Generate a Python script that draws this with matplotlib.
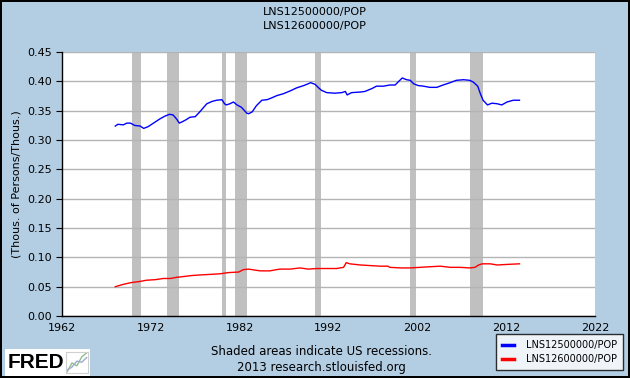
#LNS12500000/POP e LNS12600000/POP - estilo grafico FRED

import matplotlib.pyplot as plt
import matplotlib.patches as patches

# serie azul (LNS12500000/POP)
anos_azul = [1968.0, 1968.3, 1968.9, 1969.3, 1969.7, 1970.2, 1970.8, 1971.2, 1971.7,
             1972.3, 1973.0, 1973.6, 1974.1, 1974.5, 1974.9, 1975.2, 1975.5, 1976.0,
             1976.4, 1977.0, 1977.5, 1978.3, 1978.9, 1979.4, 1980.0, 1980.3, 1980.5,
             1980.9, 1981.3, 1981.7, 1982.2, 1982.8, 1983.0, 1983.4, 1983.9, 1984.5,
             1985.1, 1985.6, 1986.2, 1986.9, 1987.7, 1988.4, 1989.2, 1989.7, 1990.0,
             1990.5, 1990.9, 1991.2, 1991.8, 1992.7, 1993.5, 1993.9, 1994.1, 1994.6,
             1995.6, 1996.1, 1996.9, 1997.4, 1998.2, 1998.9, 1999.5, 2000.3, 2000.8,
             2001.2, 2001.6, 2002.1, 2002.7, 2003.4, 2004.2, 2004.9, 2005.7, 2006.4,
             2007.2, 2007.9, 2008.3, 2008.8, 2009.1, 2009.4, 2009.9, 2010.4, 2011.0,
             2011.5, 2012.1, 2012.8, 2013.5]
valores_azul = [0.324, 0.327, 0.326, 0.329, 0.329, 0.325, 0.324, 0.320, 0.323,
                0.329, 0.336, 0.341, 0.344, 0.343, 0.336, 0.329, 0.331, 0.335,
                0.339, 0.340, 0.348, 0.362, 0.366, 0.368, 0.369, 0.362, 0.360,
                0.362, 0.365, 0.360, 0.356, 0.346, 0.345, 0.348, 0.359, 0.368,
                0.369, 0.372, 0.376, 0.379, 0.384, 0.389, 0.393, 0.396, 0.398,
                0.395, 0.389, 0.385, 0.381, 0.380, 0.381, 0.383, 0.377, 0.381,
                0.382, 0.383, 0.388, 0.392, 0.392, 0.394, 0.394, 0.406, 0.403,
                0.402, 0.396, 0.393, 0.392, 0.390, 0.390, 0.394, 0.398, 0.402,
                0.403, 0.402, 0.399, 0.392, 0.379, 0.368, 0.360, 0.363, 0.362,
                0.360, 0.365, 0.368, 0.368]

# serie vermelha (LNS12600000/POP)
anos_verm = [1968.0, 1968.9, 1969.8, 1970.8, 1971.5, 1972.5, 1973.4, 1974.2, 1974.9,
             1975.5, 1976.6, 1977.5, 1978.7, 1979.8, 1980.7, 1981.9, 1982.4, 1983.0,
             1984.3, 1985.4, 1986.5, 1987.7, 1988.8, 1989.7, 1990.7, 1991.8, 1992.9,
             1993.7, 1994.0, 1994.4, 1995.6, 1996.7, 1997.8, 1998.7, 1998.9, 2000.1,
             2001.2, 2002.3, 2003.4, 2004.6, 2005.7, 2006.8, 2007.9, 2008.5, 2008.9,
             2009.3, 2010.2, 2011.0, 2012.1, 2013.5]
valores_verm = [0.050, 0.054, 0.057, 0.059, 0.061, 0.062, 0.064, 0.064, 0.066,
                0.067, 0.069, 0.070, 0.071, 0.072, 0.074, 0.075, 0.079, 0.080,
                0.077, 0.077, 0.080, 0.080, 0.082, 0.080, 0.081, 0.081, 0.081,
                0.083, 0.091, 0.089, 0.087, 0.086, 0.085, 0.085, 0.083, 0.082,
                0.082, 0.083, 0.084, 0.085, 0.083, 0.083, 0.082, 0.083, 0.087,
                0.089, 0.089, 0.087, 0.088, 0.089]

# recessoes (inicio, fim)
recessoes = [(1969.92, 1970.88), (1973.83, 1975.17), (1980.0, 1980.5),
             (1981.5, 1982.83), (1990.5, 1991.17), (2001.17, 2001.83),
             (2007.92, 2009.42)]

anos_ticks = [1962, 1972, 1982, 1992, 2002, 2012, 2022]
y_ticks = [0.00, 0.05, 0.10, 0.15, 0.20, 0.25, 0.30, 0.35, 0.40, 0.45]

fundo = '#b3cde3'

fig = plt.figure(figsize=(6.3, 3.78), dpi=100, facecolor=fundo,
                 edgecolor='black', linewidth=1.5)
ax = fig.add_axes([0.0984, 0.164, 0.846, 0.698])
ax.set_facecolor('white')

for ini, fim in recessoes:
    ax.axvspan(ini, fim, color='#c0c0c0', lw=0, zorder=1)

ax.plot(anos_azul, valores_azul, color='#0000ff', lw=1, zorder=3, label='LNS12500000/POP')
ax.plot(anos_verm, valores_verm, color='#ff0000', lw=1, zorder=3, label='LNS12600000/POP')

ax.set_xlim(1962, 2022)
ax.set_ylim(0, 0.45)
ax.set_xticks(anos_ticks)
ax.set_yticks(y_ticks)
ax.set_yticklabels(['%.2f' % v for v in y_ticks])
ax.tick_params(labelsize=8, length=4, width=0.8, color='black')
ax.tick_params(axis='x', length=0, pad=5)
ax.grid(axis='y', color='#b4b4b4', lw=1, zorder=2)
ax.set_axisbelow(False)
for s in ['top', 'right']:
    ax.spines[s].set_visible(False)
for s in ['left', 'bottom']:
    ax.spines[s].set_linewidth(1)
    ax.spines[s].set_zorder(4)

ax.set_ylabel('(Thous. of Persons/Thous.)', fontsize=8, labelpad=4)

fig.text(0.5, 0.968, 'LNS12500000/POP', ha='center', va='center', fontsize=8)
fig.text(0.5, 0.931, 'LNS12600000/POP', ha='center', va='center', fontsize=8)

fig.text(0.511, 0.069, 'Shaded areas indicate US recessions.', ha='center', va='center', fontsize=8.5)
fig.text(0.511, 0.029, '2013 research.stlouisfed.org', ha='center', va='center', fontsize=8.5)

# logo FRED
fig.patches.append(patches.Rectangle((0.008, 0.005), 0.135, 0.072, transform=fig.transFigure,
                                     facecolor='white', edgecolor='none', zorder=0))
fig.text(0.012, 0.040, 'FRED', ha='left', va='center', fontsize=15, fontweight='bold',
         family='Liberation Sans')
icone = fig.add_axes([0.105, 0.014, 0.034, 0.055], zorder=5)
icone.plot([0, 1, 2, 3, 4], [0, 1.5, 1, 2.5, 3.2], color='#8fbf8f', lw=1)
icone.plot([0, 1, 2, 3, 4], [0.3, 0.8, 1.8, 1.6, 2.4], color='#a0a8d0', lw=1)
icone.set_xticks([])
icone.set_yticks([])
for s in icone.spines.values():
    s.set_color('#d0d0d0')

leg = fig.legend(loc='lower right', bbox_to_anchor=(0.997, 0.008), fontsize=7,
                 handlelength=1.2, frameon=True, fancybox=False, borderpad=0.6,
                 labelspacing=0.45, handletextpad=1.3)
leg.get_frame().set_edgecolor('black')
leg.get_frame().set_linewidth(1)
for l in leg.get_lines():
    l.set_linewidth(2.5)

fig.savefig('out.png', dpi=100, facecolor=fundo, edgecolor='black')
